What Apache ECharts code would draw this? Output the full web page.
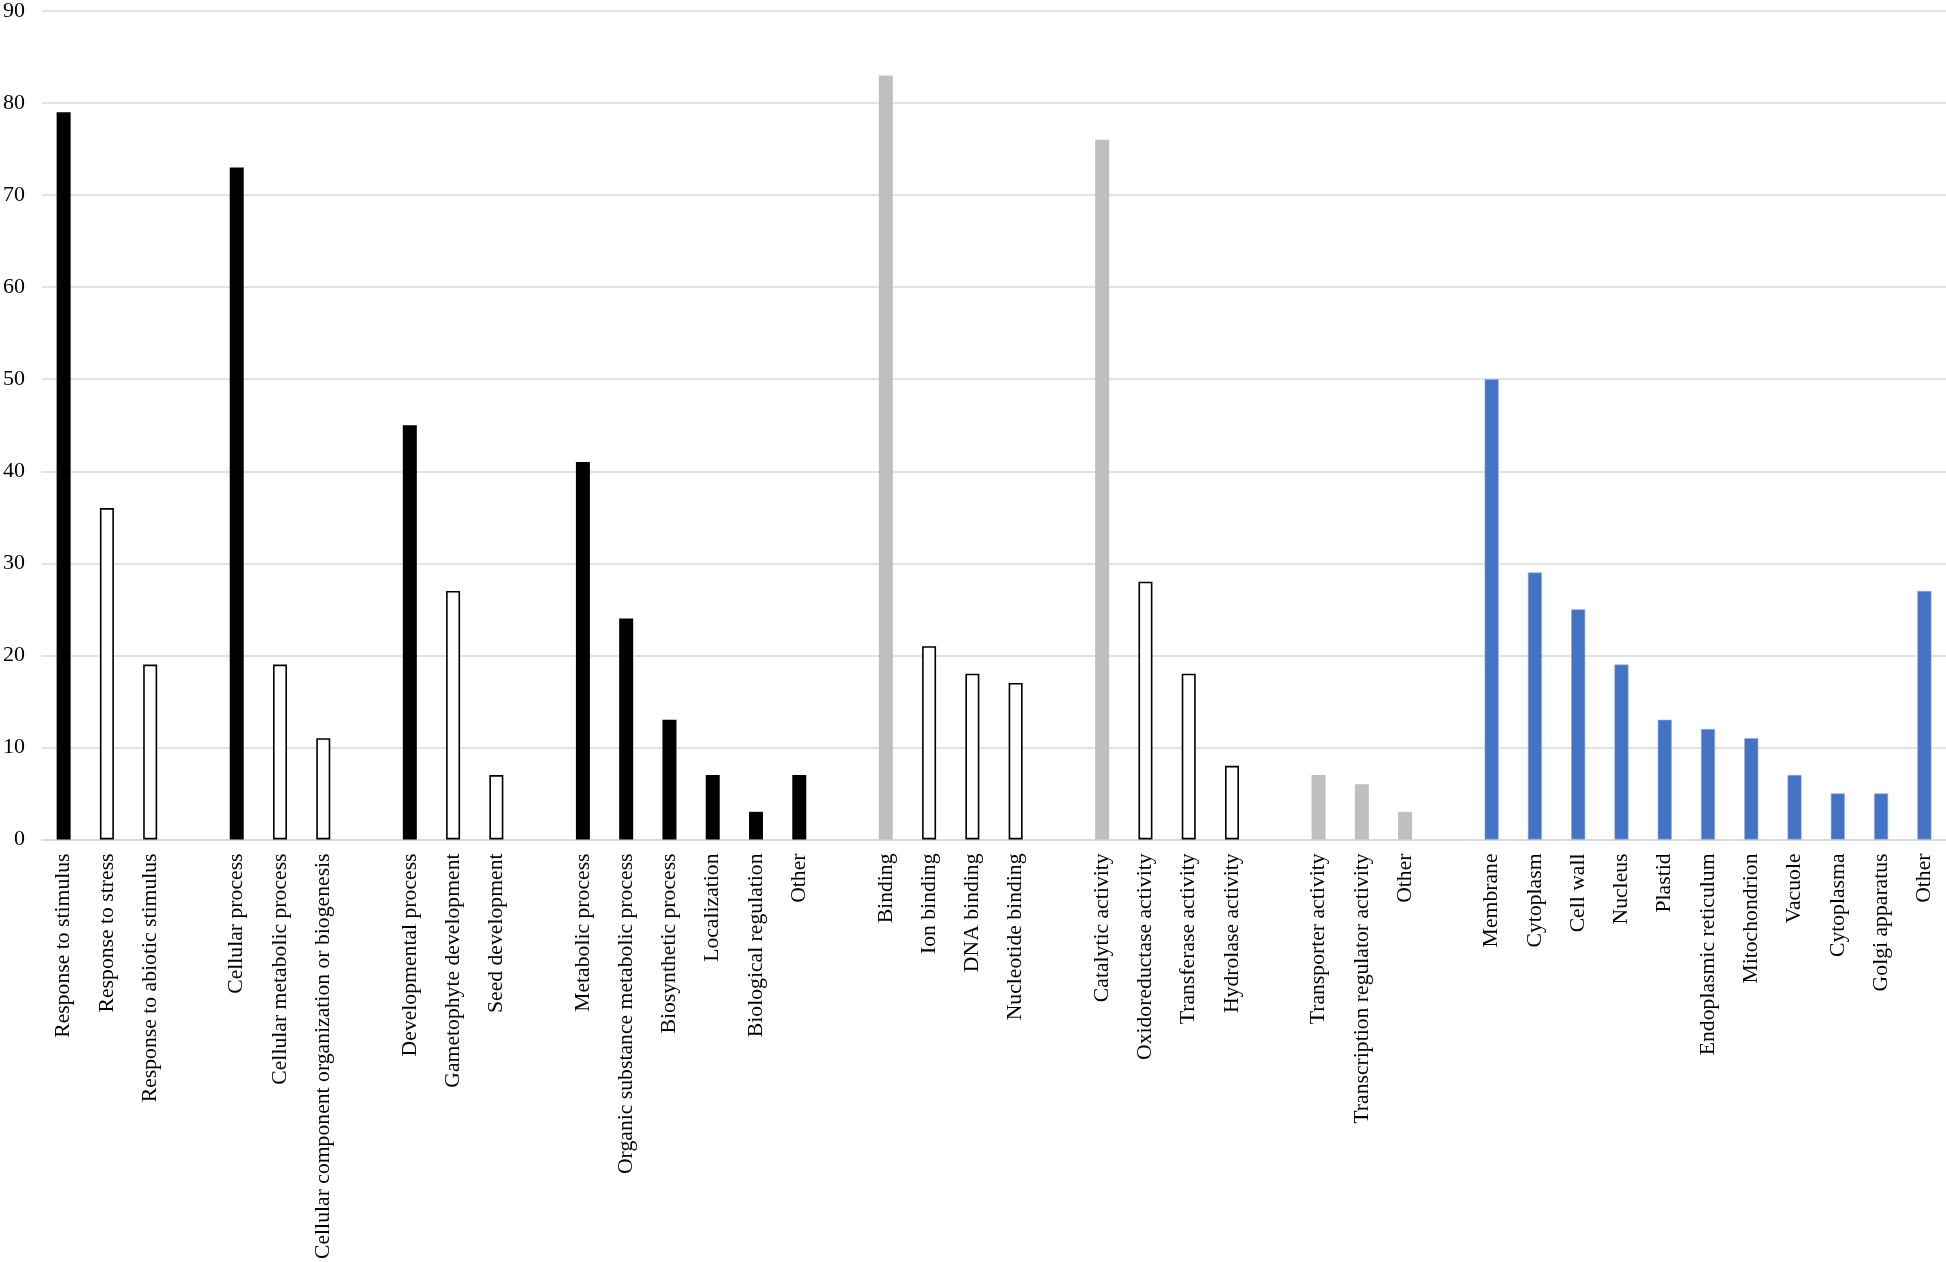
<!DOCTYPE html>
<html>
<head>
<meta charset="utf-8">
<title>GO annotation counts</title>
<script src="https://cdn.jsdelivr.net/npm/echarts@6/dist/echarts.min.js"></script>
<style>
  html, body { margin: 0; padding: 0; background: #fff; }
  #chart { width: 1946px; height: 1262px; }
</style>
</head>
<body>
<div id="chart"></div>
<script>
// '' entries are the empty slots between groups
const categories = [
  'Response to stimulus', 'Response to stress', 'Response to abiotic stimulus', '',
  'Cellular process', 'Cellular metabolic process', 'Cellular component organization or biogenesis', '',
  'Developmental process', 'Gametophyte development', 'Seed development', '',
  'Metabolic process', 'Organic substance metabolic process', 'Biosynthetic process', 'Localization', 'Biological regulation', 'Other', '',
  'Binding', 'Ion binding', 'DNA binding', 'Nucleotide binding', '',
  'Catalytic activity', 'Oxidoreductase activity', 'Transferase activity', 'Hydrolase activity', '',
  'Transporter activity', 'Transcription regulator activity', 'Other', '',
  'Membrane', 'Cytoplasm', 'Cell wall', 'Nucleus', 'Plastid', 'Endoplasmic reticulum', 'Mitochondrion', 'Vacuole', 'Cytoplasma', 'Golgi apparatus', 'Other'
];

const counts = [
  79, 36, 19, null,
  73, 19, 11, null,
  45, 27, 7, null,
  41, 24, 13, 7, 3, 7, null,
  83, 21, 18, 17, null,
  76, 28, 18, 8, null,
  7, 6, 3, null,
  50, 29, 25, 19, 13, 12, 11, 7, 5, 5, 27
];

// bp = biological process term, sub = child term, mf = molecular function, cc = cellular component
const kinds = [
  'bp', 'sub', 'sub', '',
  'bp', 'sub', 'sub', '',
  'bp', 'sub', 'sub', '',
  'bp', 'bp', 'bp', 'bp', 'bp', 'bp', '',
  'mf', 'sub', 'sub', 'sub', '',
  'mf', 'sub', 'sub', 'sub', '',
  'mf', 'mf', 'mf', '',
  'cc', 'cc', 'cc', 'cc', 'cc', 'cc', 'cc', 'cc', 'cc', 'cc', 'cc'
];

const yTicks = [0, 90, 10]; // min, max, step

const looks = {
  bp:  { color: '#000000' },
  sub: { color: '#ffffff', borderColor: '#000000', borderWidth: 1.6 },
  mf:  { color: '#bfbfbf' },
  cc:  { color: '#4472c4', borderColor: '#8faadc', borderWidth: 0.6 }
};

const barData = counts.map(function (v, i) {
  if (v === null) return '-';
  return { value: v, itemStyle: looks[kinds[i]] };
});

const chart = echarts.init(document.getElementById('chart'));
chart.setOption({
  animation: false,
  backgroundColor: '#ffffff',
  grid: { left: 39, right: 0, top: 8, bottom: 421, containLabel: false },
  xAxis: {
    type: 'category',
    data: categories,
    axisLine: { show: true, lineStyle: { color: '#d9d9d9', width: 2 } },
    axisTick: { show: false },
    axisLabel: {
      interval: 0,
      rotate: 90,
      margin: 14,
      color: '#000',
      fontFamily: 'Liberation Serif',
      fontSize: 21.7
    }
  },
  yAxis: {
    type: 'value',
    min: yTicks[0],
    max: yTicks[1],
    interval: yTicks[2],
    axisLine: { show: false },
    axisTick: { show: false },
    splitLine: { lineStyle: { color: '#d9d9d9', width: 1.5 } },
    axisLabel: {
      margin: 17,
      color: '#000',
      fontFamily: 'Liberation Serif',
      fontSize: 22
    }
  },
  series: [{
    type: 'bar',
    barWidth: 14,
    data: barData
  }]
});
</script>
</body>
</html>
